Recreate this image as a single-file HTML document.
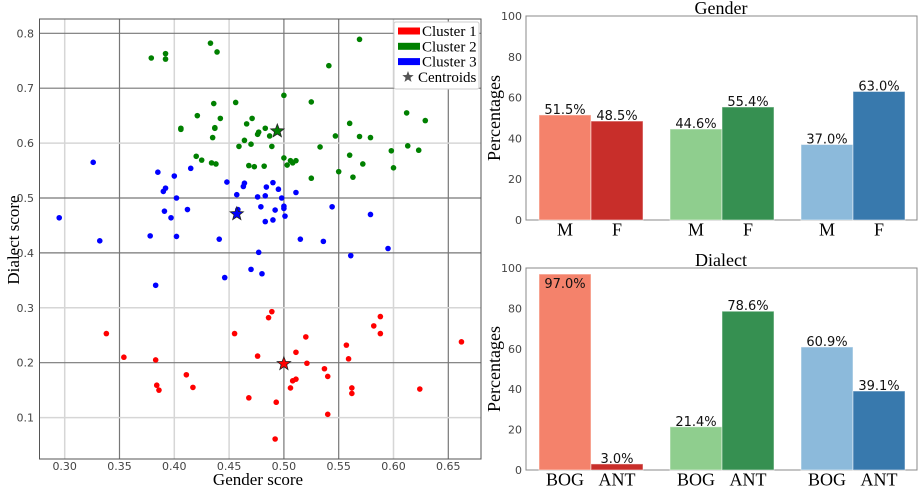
<!DOCTYPE html>
<html><head><meta charset="utf-8">
<style>
body{margin:0;background:#fff;width:920px;height:488px;overflow:hidden}
svg{display:block}
.tk{font-family:"DejaVu Sans",sans-serif;font-size:11px;fill:#444}
.sf{font-family:"Liberation Serif",serif;fill:#000}
.vl{font-family:"DejaVu Sans",sans-serif;font-size:13px;fill:#111}
</style></head>
<body>
<svg id="chart" width="920" height="488">
<g id="scatter"></g>
<g id="gender"></g>
<g id="dialect"></g>
</svg>
<script>
// Scatter data
const c1x=[.338,.354,.383,.384,.386,.411,.417,.455,.476,.486,.489,.468,.493,.492,.520,.511,.521,.506,.508,.511,.537,.540,.540,.557,.559,.582,.588,.588,.562,.562,.624,.662];
const c1y=[.253,.210,.205,.159,.150,.178,.155,.253,.212,.282,.293,.136,.128,.061,.247,.219,.199,.154,.167,.170,.189,.175,.106,.232,.207,.267,.284,.253,.154,.144,.152,.238];
const c2x=[.379,.392,.392,.433,.439,.569,.541,.500,.525,.456,.436,.421,.442,.406,.406,.437,.437,.435,.466,.471,.476,.477,.483,.487,.464,.459,.470,.489,.533,.547,.560,.569,.579,.612,.629,.613,.623,.598,.560,.572,.600,.550,.563,.525,.420,.425,.434,.438,.468,.473,.482,.500,.503,.506,.508,.511];
const c2y=[.755,.763,.753,.782,.766,.789,.741,.687,.675,.674,.672,.650,.645,.625,.627,.627,.628,.610,.635,.645,.616,.620,.627,.613,.605,.594,.598,.594,.593,.613,.636,.612,.610,.655,.641,.595,.587,.586,.578,.562,.555,.548,.538,.536,.576,.569,.564,.562,.559,.557,.558,.573,.560,.568,.564,.568];
const c3x=[.326,.295,.385,.400,.415,.448,.464,.463,.457,.392,.390,.402,.476,.483,.484,.490,.495,.498,.511,.391,.397,.412,.458,.479,.492,.500,.500,.501,.483,.490,.544,.579,.332,.378,.402,.441,.515,.536,.595,.561,.477,.470,.480,.446,.383];
const c3y=[.565,.464,.547,.540,.554,.529,.527,.521,.506,.518,.512,.500,.502,.504,.520,.528,.516,.500,.510,.476,.464,.479,.479,.484,.478,.485,.481,.467,.457,.460,.484,.470,.422,.431,.430,.425,.425,.421,.408,.395,.401,.370,.362,.355,.341];
const centX=[.500,.494,.457];
const centY=[.198,.622,.471];
const xTicks=[0.30,0.35,0.40,0.45,0.50,0.55,0.60,0.65];
const yTicks=[0.1,0.2,0.3,0.4,0.5,0.6,0.7,0.8];
// Bar data
const genderCats=["M","F","M","F","M","F"];
const genderVals=[51.5,48.5,44.6,55.4,37.0,63.0];
const dialectCats=["BOG","ANT","BOG","ANT","BOG","ANT"];
const dialectVals=[97.0,3.0,21.4,78.6,60.9,39.1];
const barTicks=[0,20,40,60,80,100];

const NS="http://www.w3.org/2000/svg";
function mk(parent,tag,attrs,text){const e=document.createElementNS(NS,tag);for(const k in attrs)e.setAttribute(k,attrs[k]);if(text!==undefined)e.textContent=text;parent.appendChild(e);return e;}

// Scatter
const S=document.getElementById('scatter');
const L=39.5,R=481,T=19,B=459;
const sx=v=>64.7+(v-0.30)*1096;
const sy=v=>33.3+(0.8-v)*549;
const darkX=[0.35,0.50,0.55,0.65],darkY=[0.8,0.7,0.5,0.4,0.2];
xTicks.forEach(t=>{
  const x=sx(t);const dk=darkX.some(d=>Math.abs(d-t)<1e-6);
  const g=mk(S,'line',{x1:x,x2:x,y1:T,y2:B,stroke:dk?'#777':'#d6d6d6','stroke-width':dk?1.2:1.5});
  
  const lb=mk(S,'text',{x:x,y:470,'text-anchor':'middle',class:'tk'},t.toFixed(2));
  
});
yTicks.forEach(t=>{
  const y=sy(t);const dk=darkY.some(d=>Math.abs(d-t)<1e-6);
  const g=mk(S,'line',{x1:L,x2:R,y1:y,y2:y,stroke:dk?'#777':'#d6d6d6','stroke-width':dk?1.2:1.5});
  
  const lb=mk(S,'text',{x:34,y:y+4,'text-anchor':'end',class:'tk'},t.toFixed(1));
  
});
const fr=mk(S,'rect',{x:L,y:T,width:R-L,height:B-T,fill:'none',stroke:'#555','stroke-width':1});

function dots(xs,ys,col,name){xs.forEach((v,i)=>{const c=mk(S,'circle',{cx:sx(v),cy:sy(ys[i]),r:2.8,fill:col});
  });}
dots(c1x,c1y,'#ff0000','cluster-1-point');
dots(c2x,c2y,'#008000','cluster-2-point');
dots(c3x,c3y,'#0000ff','cluster-3-point');
function star(cx,cy,r,fill){let p=[];for(let i=0;i<10;i++){const a=-Math.PI/2+i*Math.PI/5;const rr=i%2?r*0.42:r;p.push((cx+rr*Math.cos(a)).toFixed(1)+','+(cy+rr*Math.sin(a)).toFixed(1));}
  return mk(S,'polygon',{points:p.join(' '),fill:fill,stroke:'#222','stroke-width':0.8});}
const cCols=['#ff0000','#008000','#0000ff'];
centX.forEach((v,i)=>{const s=star(sx(v),sy(centY[i]),7,cCols[i]);});
// legend
const lg=mk(S,'g',{});
mk(lg,'rect',{x:394,y:22,width:85,height:67,rx:2,fill:'#fff',stroke:'#ccc'});
const lgn=['Cluster 1','Cluster 2','Cluster 3'];
lgn.forEach((n,i)=>{const yy=31+i*15.3;
  const e=mk(lg,'g',{});
  mk(e,'rect',{x:398,y:yy-3.5,width:22,height:7,fill:cCols[i]});
  mk(e,'text',{x:422,y:yy+5,class:'sf','font-size':'15'},n);});
const e4=mk(lg,'g',{});
const ls=document.createElementNS(NS,'polygon');
{let p=[];const cx=408,cy=77,r=6;for(let i=0;i<10;i++){const a=-Math.PI/2+i*Math.PI/5;const rr=i%2?r*0.42:r;p.push((cx+rr*Math.cos(a)).toFixed(1)+','+(cy+rr*Math.sin(a)).toFixed(1));}ls.setAttribute('points',p.join(' '));ls.setAttribute('fill','#555');e4.appendChild(ls);}
mk(e4,'text',{x:418,y:82,class:'sf','font-size':'15'},'Centroids');
const xt=mk(S,'text',{x:258,y:485,'text-anchor':'middle',class:'sf','font-size':'17'},'Gender score');

const yt=mk(S,'text',{x:0,y:0,'text-anchor':'middle',class:'sf','font-size':'17',transform:'translate(19,240) rotate(-90)'},'Dialect score');


// Bars
const barL=[539,591,670,722,801,853],barW=52;
const fills=['#f4826b','#c82e2a','#8fce8e','#369051','#8cbadb','#3879ad'];
function bars(gid,cats,vals,top,bot,title){
  const G=document.getElementById(gid);
  const by=v=>bot-v*(bot-top)/100;
  barTicks.forEach(t=>{const lb=mk(G,'text',{x:522,y:by(t)+4,'text-anchor':'end',class:'tk'},String(t));
    });
  const f=mk(G,'rect',{x:526,y:top,width:391,height:bot-top,fill:'none',stroke:'#888','stroke-width':1});
  
  vals.forEach((v,i)=>{
    const r=mk(G,'rect',{x:barL[i],y:by(v),width:barW,height:bot-by(v),fill:fills[i],stroke:'rgba(255,255,255,0.5)','stroke-width':1});
    
    const ty=v>90?by(v)+14:by(v)-1;
    const vl=mk(G,'text',{x:barL[i]+barW/2,y:ty,'text-anchor':'middle',class:'vl'},v.toFixed(1)+'%');
    
    const cl=mk(G,'text',{x:barL[i]+barW/2,y:bot+15.5,'text-anchor':'middle',class:'sf','font-size':'18'},cats[i]);
    
  });
  const tt=mk(G,'text',{x:721,y:top-2,'text-anchor':'middle',class:'sf','font-size':'18'},title);
  
  const yl=mk(G,'text',{x:0,y:0,'text-anchor':'middle',class:'sf','font-size':'18',transform:'translate(500,'+((top+bot)/2)+') rotate(-90)'},'Percentages');
  
}
bars('gender',genderCats,genderVals,16,220,'Gender');
bars('dialect',dialectCats,dialectVals,268,470,'Dialect');
</script>
</body></html>
